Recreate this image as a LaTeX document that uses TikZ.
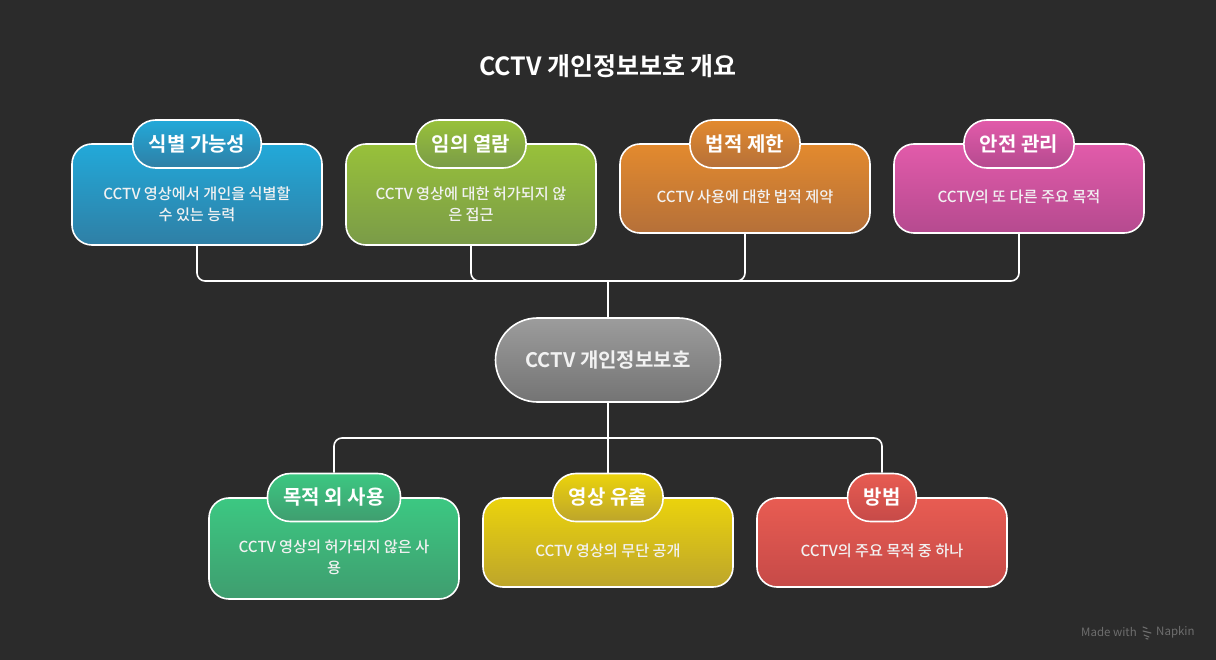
\documentclass[tikz,border=0pt]{standalone}
\usepackage{fontspec}
\setmainfont{Noto Sans CJK KR}[BoldFont={Noto Sans CJK KR Bold}]
\newfontfamily\mediumfont{Noto Sans CJK KR Medium}
\usetikzlibrary{calc}
\definecolor{bg}{HTML}{2B2B2B}
\definecolor{bodytxt}{HTML}{F2F2F2}
\definecolor{wmark}{HTML}{6E6E6E}
\definecolor{blueT}{HTML}{22A9D9}\definecolor{blueB}{HTML}{2F7FA5}
\definecolor{greenT}{HTML}{98C13A}\definecolor{greenB}{HTML}{7A9B48}
\definecolor{orangeT}{HTML}{E38A2E}\definecolor{orangeB}{HTML}{B57039}
\definecolor{pinkT}{HTML}{E25BAA}\definecolor{pinkB}{HTML}{B54A8F}
\definecolor{greyT}{HTML}{9C9C9C}\definecolor{greyB}{HTML}{747474}
\definecolor{emerT}{HTML}{3CC882}\definecolor{emerB}{HTML}{3F9D6F}
\definecolor{yellT}{HTML}{EBD30C}\definecolor{yellB}{HTML}{BDA52B}
\definecolor{redT}{HTML}{E85C52}\definecolor{redB}{HTML}{C64A48}
\begin{document}
\begin{tikzpicture}[x=1pt,y=-1pt,
  box/.style={draw=white, line width=1.6pt, rounded corners=20pt, minimum width=250pt, inner sep=0pt},
  pill/.style={draw=white, line width=1.6pt, rounded corners=23pt, minimum height=48pt, inner xsep=16pt, inner ysep=0pt, font=\bfseries\fontsize{20}{22}\selectfont, text=white},
  body/.style={align=center, text=bodytxt, font=\mediumfont\fontsize{15.2}{21}\selectfont, inner sep=0pt},
  hubnode/.style={draw=white, line width=1.6pt, rounded corners=42pt, minimum width=225pt, minimum height=84pt, text=bodytxt, font=\bfseries\fontsize{20}{22}\selectfont},
  conn/.style={draw=white, line width=1.6pt, rounded corners=8pt},
  titletext/.style={text=white, font=\bfseries\fontsize{25}{28}\selectfont},
  wm/.style={text=wmark, font=\fontsize{11.5}{12}\selectfont, inner sep=0pt}]
\fill[bg] (0,0) rectangle (1216,660);
\useasboundingbox (0,0) rectangle (1216,660);

\node[titletext] (title) at (608,66) {CCTV 개인정보보호 개요};

% top boxes
\node[box, minimum height=101pt, top color=blueT, bottom color=blueB] (b1) at (197,194.5) {};
\node[box, minimum height=101pt, top color=greenT, bottom color=greenB] (b2) at (471,194.5) {};
\node[box, minimum height=89pt, top color=orangeT, bottom color=orangeB] (b3) at (745,188.5) {};
\node[box, minimum height=89pt, top color=pinkT, bottom color=pinkB] (b4) at (1019,188.5) {};
\node[pill, top color=blueT, bottom color=blueB] (p1) at (197,144) {식별 가능성};
\node[pill, top color=greenT, bottom color=greenB] (p2) at (471,144) {임의 열람};
\node[pill, top color=orangeT, bottom color=orangeB] (p3) at (745,144) {법적 제한};
\node[pill, top color=pinkT, bottom color=pinkB] (p4) at (1019,144) {안전 관리};
\node[body] (t1) at (197,204) {CCTV 영상에서 개인을 식별할\\수 있는 능력};
\node[body] (t2) at (471,204) {CCTV 영상에 대한 허가되지 않\\은 접근};
\node[body] (t3) at (745,197) {CCTV 사용에 대한 법적 제약};
\node[body] (t4) at (1019,197) {CCTV의 또 다른 주요 목적};

% center
\node[hubnode, top color=greyT, bottom color=greyB] (c) at (608,360) {CCTV 개인정보보호};

% bottom boxes
\node[box, minimum height=101pt, top color=emerT, bottom color=emerB] (b5) at (334,548.5) {};
\node[box, minimum height=89pt, top color=yellT, bottom color=yellB] (b6) at (608,542.5) {};
\node[box, minimum height=89pt, top color=redT, bottom color=redB] (b7) at (882,542.5) {};
\node[pill, top color=emerT, bottom color=emerB] (p5) at (334,497.5) {목적 외 사용};
\node[pill, top color=yellT, bottom color=yellB] (p6) at (608,497.5) {영상 유출};
\node[pill, top color=redT, bottom color=redB] (p7) at (882,497.5) {방범};
\node[body] (t5) at (334,557) {CCTV 영상의 허가되지 않은 사\\용};
\node[body] (t6) at (608,551) {CCTV 영상의 무단 공개};
\node[body] (t7) at (882,551) {CCTV의 주요 목적 중 하나};

% connectors
\coordinate (hubT) at (608,281);
\coordinate (hubB) at (608,438);
\draw[conn] (b1.south) |- (hubT);
\draw[conn] (b2.south) |- (hubT);
\draw[conn] (b3.south) |- (hubT);
\draw[conn] (b4.south) |- (hubT);
\draw[conn] (hubT) -- (c.north);
\draw[conn] (c.south) -- (hubB);
\draw[conn] (hubB) -| (p5.north);
\draw[conn] (hubB) -| (p7.north);
\draw[conn] (hubB) -- (p6.north);

% watermark
\node[wm, anchor=east] (wm1) at (1137,632) {Made with};
\node[wm, anchor=west] (wm2) at (1156,632) {Napkin};
\draw[wmark, line width=1.1pt, line cap=round] (1143,627) -- (1147,628.5) (1143,631) -- (1151,633) (1144,635) -- (1149,637) (1146,638.5) -- (1148,639);
\end{tikzpicture}
\end{document}
